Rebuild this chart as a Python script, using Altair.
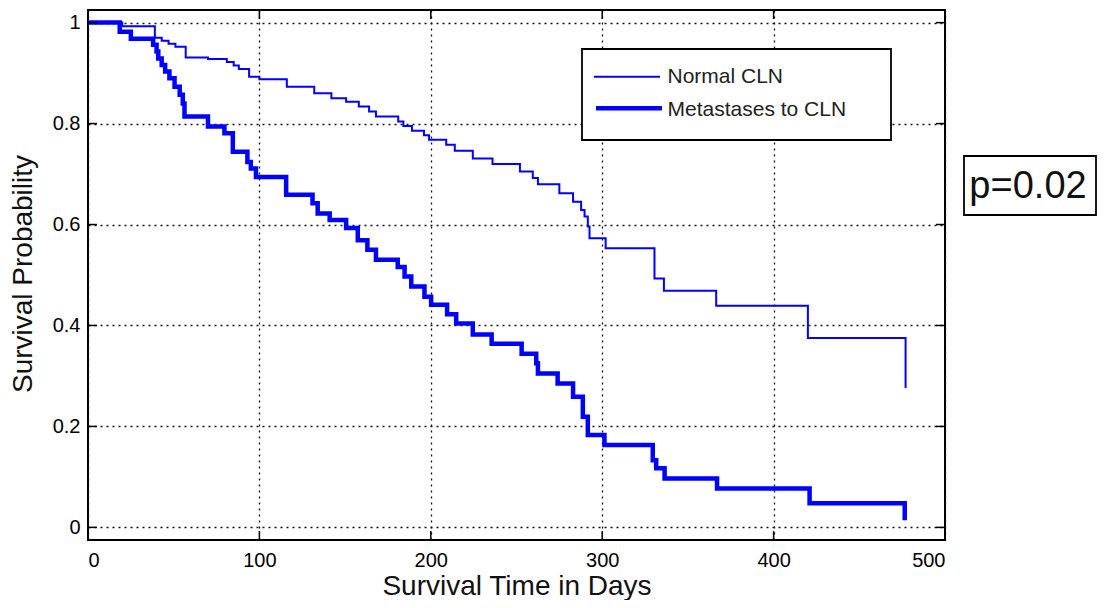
import altair as alt
import pandas as pd

# ---------------- data ----------------
series_names = ["Normal CLN", "Metastases to CLN"]

normal_days = [0, 20, 39, 43, 47, 51, 57, 70, 81, 85, 88, 94, 100, 116, 132, 142,
               150.6, 158, 164, 168, 181, 184, 189, 196, 199, 209, 214, 224.5, 236,
               252, 259.5, 262.5, 275, 283, 287.7, 289.7, 291.6, 292.6, 302, 330.5,
               336, 366.5, 420, 477]
normal_surv = [1.0, 0.993, 0.970, 0.964, 0.958, 0.952, 0.931, 0.928, 0.922, 0.915,
               0.908, 0.893, 0.888, 0.873, 0.860, 0.850, 0.843, 0.834, 0.824, 0.814,
               0.804, 0.795, 0.786, 0.777, 0.768, 0.758, 0.746, 0.731, 0.720, 0.705,
               0.692, 0.680, 0.662, 0.645, 0.629, 0.616, 0.596, 0.573, 0.553, 0.493,
               0.469, 0.439, 0.375, 0.276]

meta_days = [0, 18.5, 25, 38, 40, 41, 43, 45, 47.5, 50.5, 53.5, 55.3, 56.3, 70, 79.6,
             84.5, 93, 95, 98, 115.6, 131, 134, 141, 150.6, 157.4, 163, 168, 180.7,
             184.7, 188.6, 196.3, 200.2, 209.5, 214.8, 224.5, 235.5, 253, 261.5,
             262.5, 274, 283, 288.7, 291.6, 301.3, 329.5, 331.5, 336.4, 367, 421, 476.5]
meta_surv = [1.0, 0.982, 0.968, 0.956, 0.943, 0.929, 0.916, 0.903, 0.890, 0.873,
             0.857, 0.840, 0.814, 0.794, 0.781, 0.744, 0.724, 0.711, 0.694, 0.659,
             0.642, 0.622, 0.609, 0.593, 0.569, 0.550, 0.530, 0.516, 0.497, 0.477,
             0.457, 0.441, 0.422, 0.404, 0.382, 0.364, 0.344, 0.325, 0.305, 0.285,
             0.259, 0.219, 0.183, 0.163, 0.133, 0.117, 0.097, 0.077, 0.048, 0.014]

x_ticks = [0, 100, 200, 300, 400, 500]
y_ticks = [0, 0.2, 0.4, 0.6, 0.8, 1.0]
p_text = "p=0.02"
x_title = "Survival Time in Days"
y_title = "Survival Probability"

# ---------------- chart ----------------
W, H = 857, 530
BLUE = "#0000ff"
FONT = "Liberation Sans"

df_normal = pd.DataFrame({"days": normal_days, "surv": normal_surv})
df_meta = pd.DataFrame({"days": meta_days, "surv": meta_surv})
df_xt = pd.DataFrame({"t": x_ticks})
df_yt = pd.DataFrame({"t": y_ticks})
one = pd.DataFrame({"a": [0]})

xscale = alt.Scale(domain=[0, 500], nice=False, zero=False)
yscale = alt.Scale(domain=[-0.025, 1.025], nice=False, zero=False)

xaxis = alt.Axis(values=x_ticks, format="d", title=x_title, grid=True,
                 gridDash=[2, 4], gridColor="#111", gridWidth=1.3, gridOpacity=1,
                 domain=False, ticks=False, tickSize=0, labelPadding=10,
                 labelFontSize=20, labelColor="black", labelFont=FONT,
                 titleFontSize=28, titleFont=FONT, titleFontWeight="normal",
                 titleColor="#111", titleY=54, titleBaseline="alphabetic")
yaxis = alt.Axis(values=y_ticks, format="~g", title=y_title, grid=True,
                 gridDash=[2, 4], gridColor="#111", gridWidth=1.3, gridOpacity=1,
                 domain=False, ticks=False, tickSize=0, labelPadding=8,
                 labelFontSize=20, labelColor="black", labelFont=FONT,
                 titleFontSize=28, titleFont=FONT, titleFontWeight="normal",
                 titleColor="#111", titleX=-51, titleY=263.5, titleAngle=270,
                 titleAlign="center", titleBaseline="bottom")

line_normal = alt.Chart(df_normal).mark_line(
    interpolate="step-after", color=BLUE, strokeWidth=2, clip=True
).encode(
    x=alt.X("days:Q", scale=xscale, axis=xaxis),
    y=alt.Y("surv:Q", scale=yscale, axis=yaxis),
)

line_meta = alt.Chart(df_meta).mark_line(
    interpolate="step-after", color=BLUE, strokeWidth=4.5, clip=True
).encode(
    x=alt.X("days:Q", scale=xscale),
    y=alt.Y("surv:Q", scale=yscale),
)

# inward ticks (MATLAB style)
tick_style = dict(color="black", strokeWidth=1.5)
tb = alt.Chart(df_xt).mark_rule(**tick_style).encode(
    x=alt.X("t:Q", scale=xscale), y=alt.value(H), y2=alt.value(H - 9))
tt = alt.Chart(df_xt).mark_rule(**tick_style).encode(
    x=alt.X("t:Q", scale=xscale), y=alt.value(0), y2=alt.value(9))
tl = alt.Chart(df_yt).mark_rule(**tick_style).encode(
    y=alt.Y("t:Q", scale=yscale), x=alt.value(0), x2=alt.value(9))
tr = alt.Chart(df_yt).mark_rule(**tick_style).encode(
    y=alt.Y("t:Q", scale=yscale), x=alt.value(W), x2=alt.value(W - 9))

# legend (manual, MATLAB style)
leg_box = alt.Chart(one).mark_rect(fill="white", stroke="black", strokeWidth=1.8).encode(
    x=alt.value(494), x2=alt.value(803), y=alt.value(39), y2=alt.value(130))
leg_l1 = alt.Chart(one).mark_rule(color=BLUE, strokeWidth=2).encode(
    x=alt.value(506), x2=alt.value(572), y=alt.value(66.7))
leg_l2 = alt.Chart(one).mark_rule(color=BLUE, strokeWidth=4.5).encode(
    x=alt.value(508), x2=alt.value(574), y=alt.value(98.3))
leg_t1 = alt.Chart(one).mark_text(align="left", baseline="middle", fontSize=21,
                                  font=FONT, color="#222").encode(
    x=alt.value(579.5), y=alt.value(67), text=alt.value(series_names[0]))
leg_t2 = alt.Chart(one).mark_text(align="left", baseline="middle", fontSize=21,
                                  font=FONT, color="#222").encode(
    x=alt.value(579.5), y=alt.value(99.5), text=alt.value(series_names[1]))

# p-value box
p_box = alt.Chart(one).mark_rect(fill="white", stroke="black", strokeWidth=1.8).encode(
    x=alt.value(876), x2=alt.value(1008), y=alt.value(146), y2=alt.value(205))
p_lbl = alt.Chart(one).mark_text(align="center", baseline="middle", fontSize=38,
                                 font=FONT, color="#111").encode(
    x=alt.value(940), y=alt.value(177), text=alt.value(p_text))

chart = alt.layer(
    line_normal, line_meta, tb, tt, tl, tr,
    leg_box, leg_l1, leg_l2, leg_t1, leg_t2, p_box, p_lbl
).properties(
    width=W, height=H,
    autosize=alt.AutoSizeParams(type="none"),
    padding={"left": 80, "top": 2, "right": 152, "bottom": 60},
    background="white",
).configure_view(stroke="black", strokeWidth=2)

chart.save("out.html", embed_options={"renderer": "svg", "actions": False})
